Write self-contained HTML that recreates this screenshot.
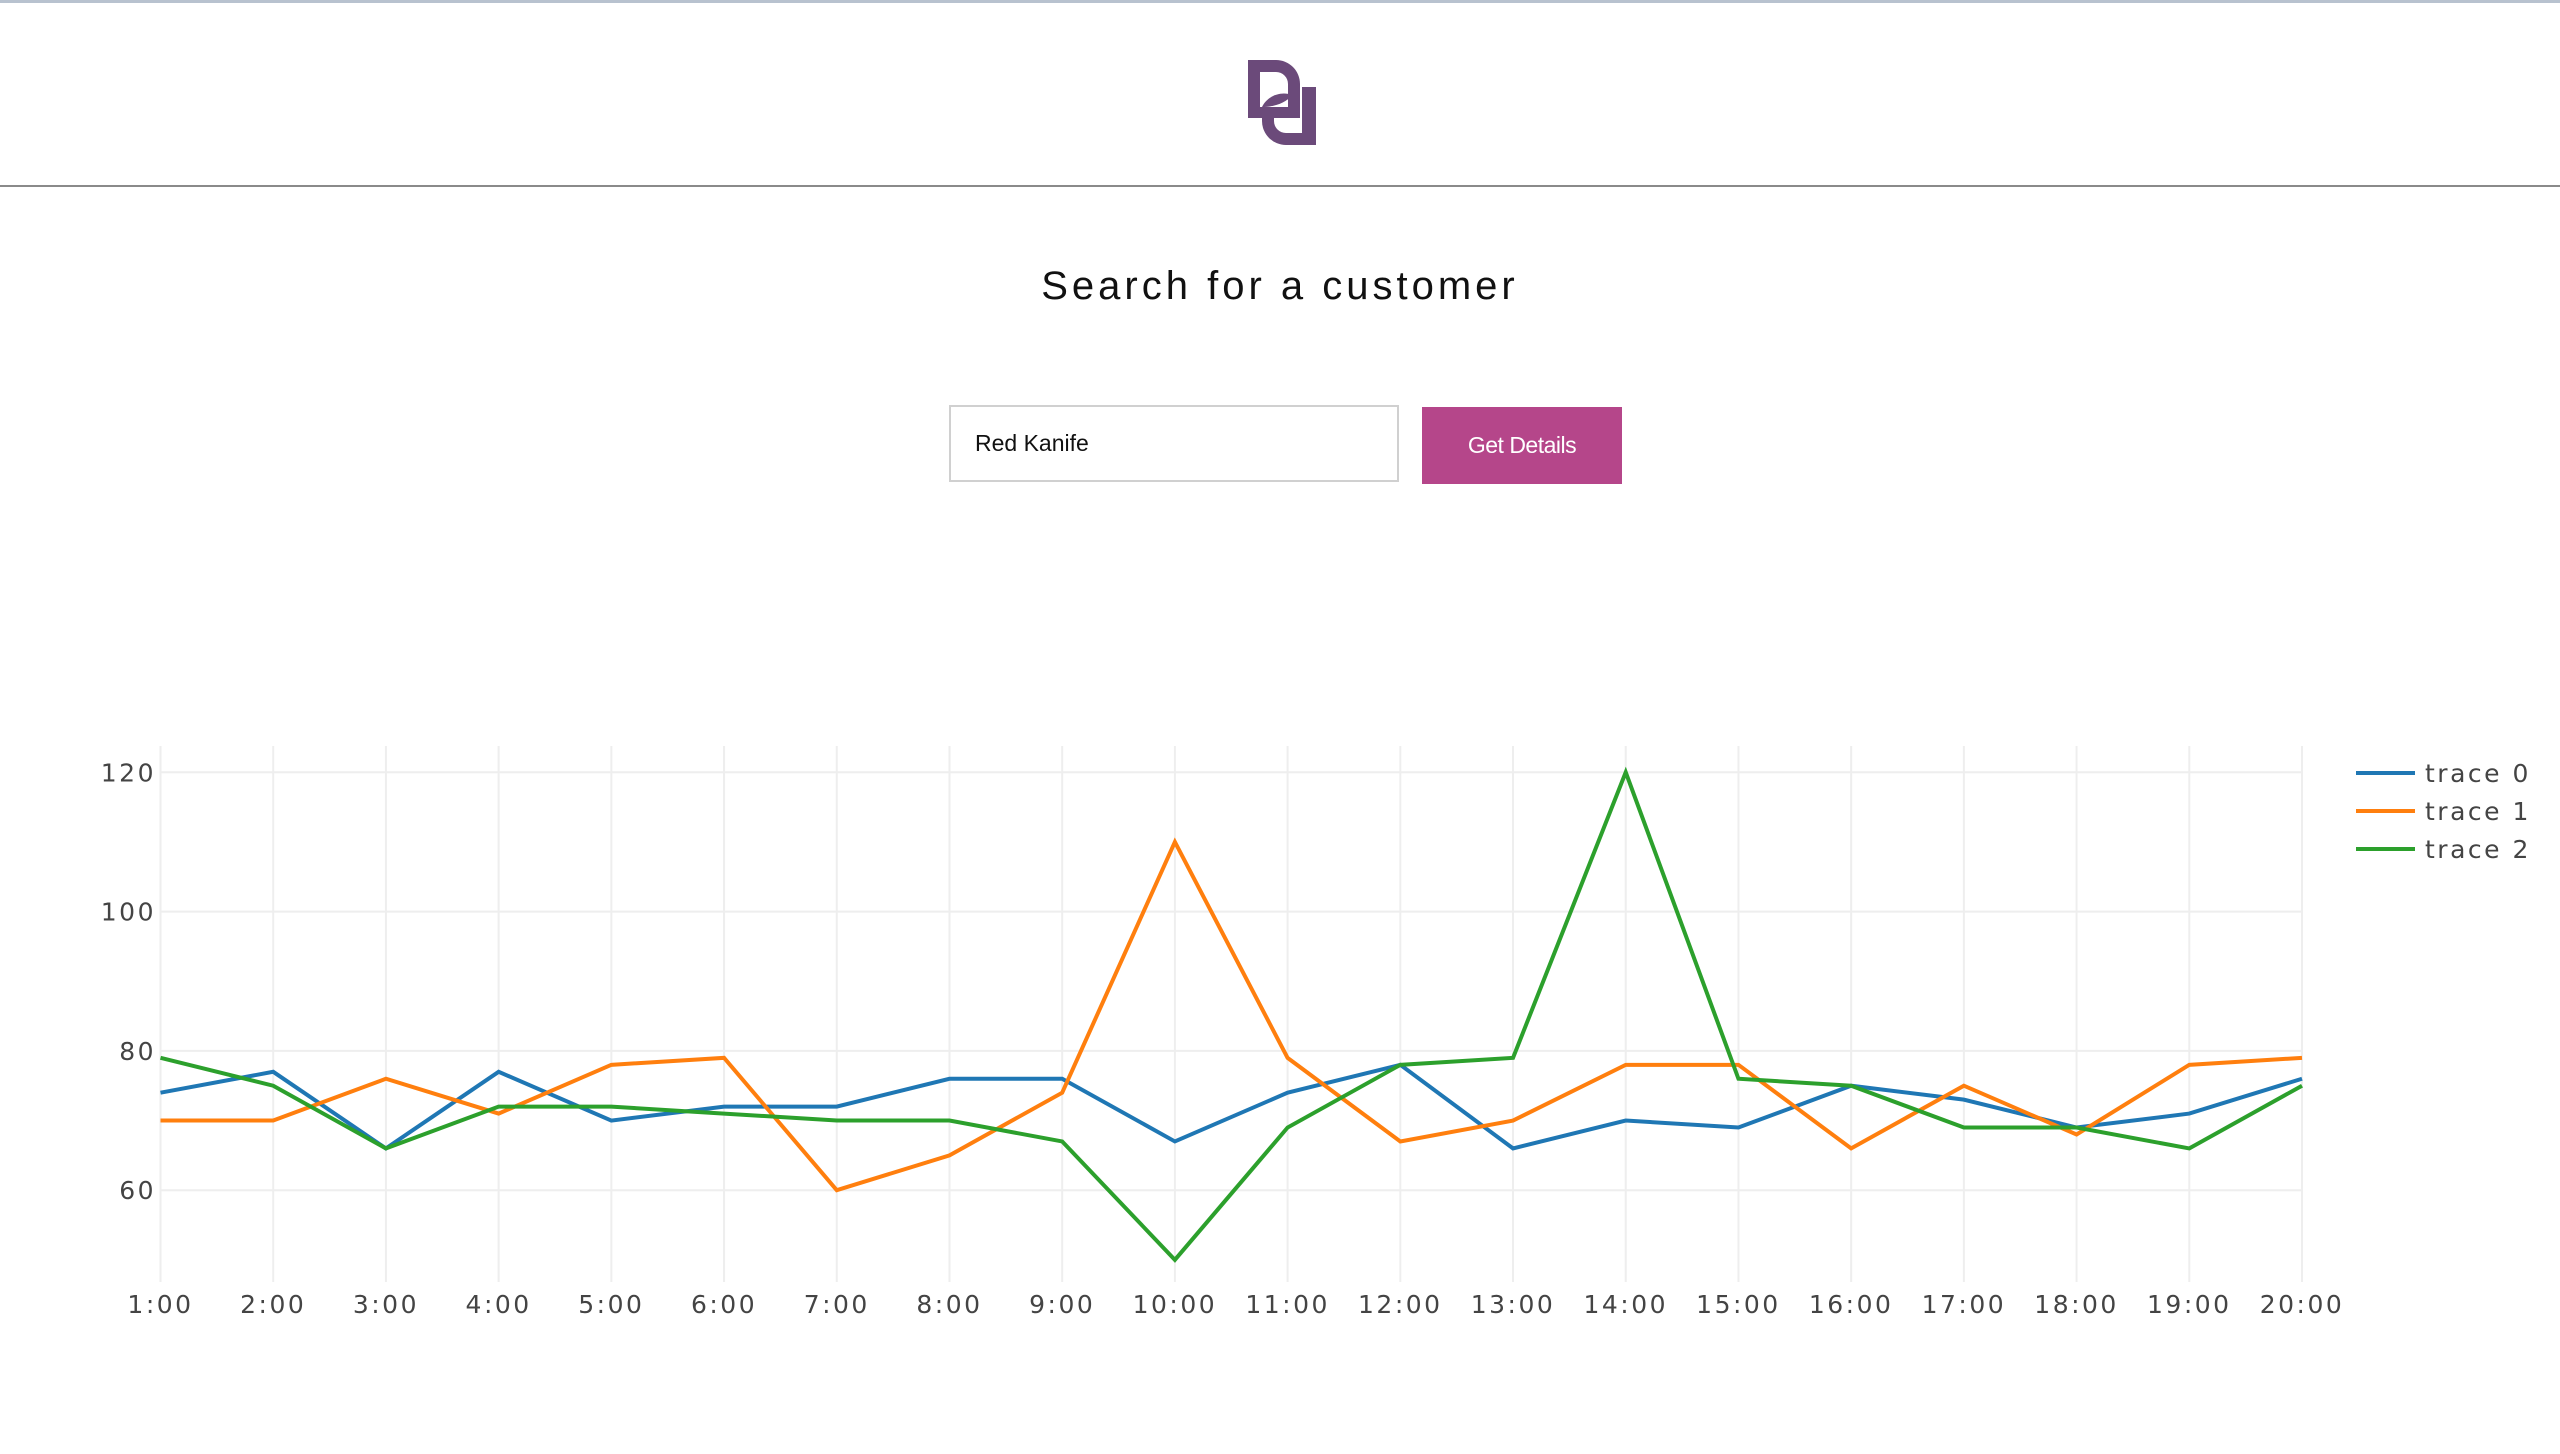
<!DOCTYPE html>
<html><head><meta charset="utf-8"><style>
body{margin:0;width:2560px;height:1454px;background:#fff;position:relative;overflow:hidden;font-family:"Liberation Sans",sans-serif}
.topline{position:absolute;left:0;top:0;width:2560px;height:3px;background:#b8c2cf}
.hdr{position:absolute;left:0;top:185px;width:2560px;height:2px;background:#8a8a8a}
h1{position:absolute;left:0;width:2560px;top:264px;margin:0;text-align:center;font-weight:normal;font-size:40px;letter-spacing:4px;color:#111}
.inp{position:absolute;left:949px;top:405px;width:450px;height:77px;border:2px solid #d0d0d0;box-sizing:border-box;font-size:23px;padding-left:24px;line-height:73px;color:#111}
.btn{position:absolute;left:1422px;top:407px;width:200px;height:77px;background:#b5468a;color:#fff;font-size:23px;text-align:center;line-height:77px;letter-spacing:-0.5px}
</style></head><body>
<div class="topline"></div>
<svg style="position:absolute;left:1240px;top:55px" width="90" height="95" viewBox="0 0 90 95">
<path fill-rule="evenodd" d="M8 5 H36 A24 24 0 0 1 60 29 V63 H8 Z M20 17 H36 A12 12 0 0 1 48 29 V52 H20 Z" fill="#6b4a7a"/>
<path d="M62 32 H76 V90 H46 A24 24 0 0 1 22 66 V63 H34 V66 A12 12 0 0 0 46 78 H62 Z" fill="#6b4a7a"/>
<path d="M22 52 C28 40 42 36 52 40 C46 48 34 52 22 52 Z" fill="#6b4a7a"/>
</svg>
<div class="hdr"></div>
<h1>Search for a customer</h1>
<div class="inp">Red Kanife</div>
<div class="btn">Get Details</div>
<svg id="chart" style="position:absolute;left:0;top:0" width="2560" height="1454"></svg>
<script>
const categories=["1:00","2:00","3:00","4:00","5:00","6:00","7:00","8:00","9:00","10:00","11:00","12:00","13:00","14:00","15:00","16:00","17:00","18:00","19:00","20:00"];
const trace0=[74,77,66,77,70,72,72,76,76,67,74,78,66,70,69,75,73,69,71,76];
const trace1=[70,70,76,71,78,79,60,65,74,110,79,67,70,78,78,66,75,68,78,79];
const trace2=[79,75,66,72,72,71,70,70,67,50,69,78,79,120,76,75,69,69,66,75];
const yTicks=[60,80,100,120];
const seriesNames=["trace 0","trace 1","trace 2"];
const colors=["#1f77b4","#ff7f0e","#2ca02c"];
const svg=document.getElementById('chart');const NS="http://www.w3.org/2000/svg";
const x0=160.5,dx=(2302-160.5)/19;
function xs(i){return x0+i*dx;}
function ys(v){return 772.3+(120-v)*(1190.2-772.3)/60;}
function mk(t,a){const e=document.createElementNS(NS,t);for(const k in a)e.setAttribute(k,a[k]);svg.appendChild(e);return e;}
categories.forEach((c,i)=>{
const g=mk('line',{x1:xs(i),x2:xs(i),y1:746,y2:1282,stroke:'#eee','stroke-width':2});


const t=mk('text',{x:xs(i),y:1313,'text-anchor':'middle','font-size':25,fill:'#444','letter-spacing':2.5,'font-family':'DejaVu Sans, sans-serif'});
t.textContent=c;


});
yTicks.forEach(v=>{
const g=mk('line',{x1:160,x2:2302,y1:ys(v),y2:ys(v),stroke:'#eee','stroke-width':2});


const t=mk('text',{x:156,y:ys(v)+9,'text-anchor':'end','font-size':25,fill:'#444','letter-spacing':2.5,'font-family':'DejaVu Sans, sans-serif'});
t.textContent=v;


});
[trace0,trace1,trace2].forEach((s,k)=>{
const p=mk('polyline',{points:s.map((v,i)=>xs(i)+','+ys(v)).join(' '),fill:'none',stroke:colors[k],'stroke-width':4,'stroke-linejoin':'miter'});


const ly=773+k*38;
const l=mk('line',{x1:2356,x2:2415,y1:ly,y2:ly,stroke:colors[k],'stroke-width':4});


const t=mk('text',{x:2425,y:ly+9,'font-size':25,fill:'#444','letter-spacing':2.5,'font-family':'DejaVu Sans, sans-serif'});
t.textContent=seriesNames[k];


});
</script>
</body></html>
